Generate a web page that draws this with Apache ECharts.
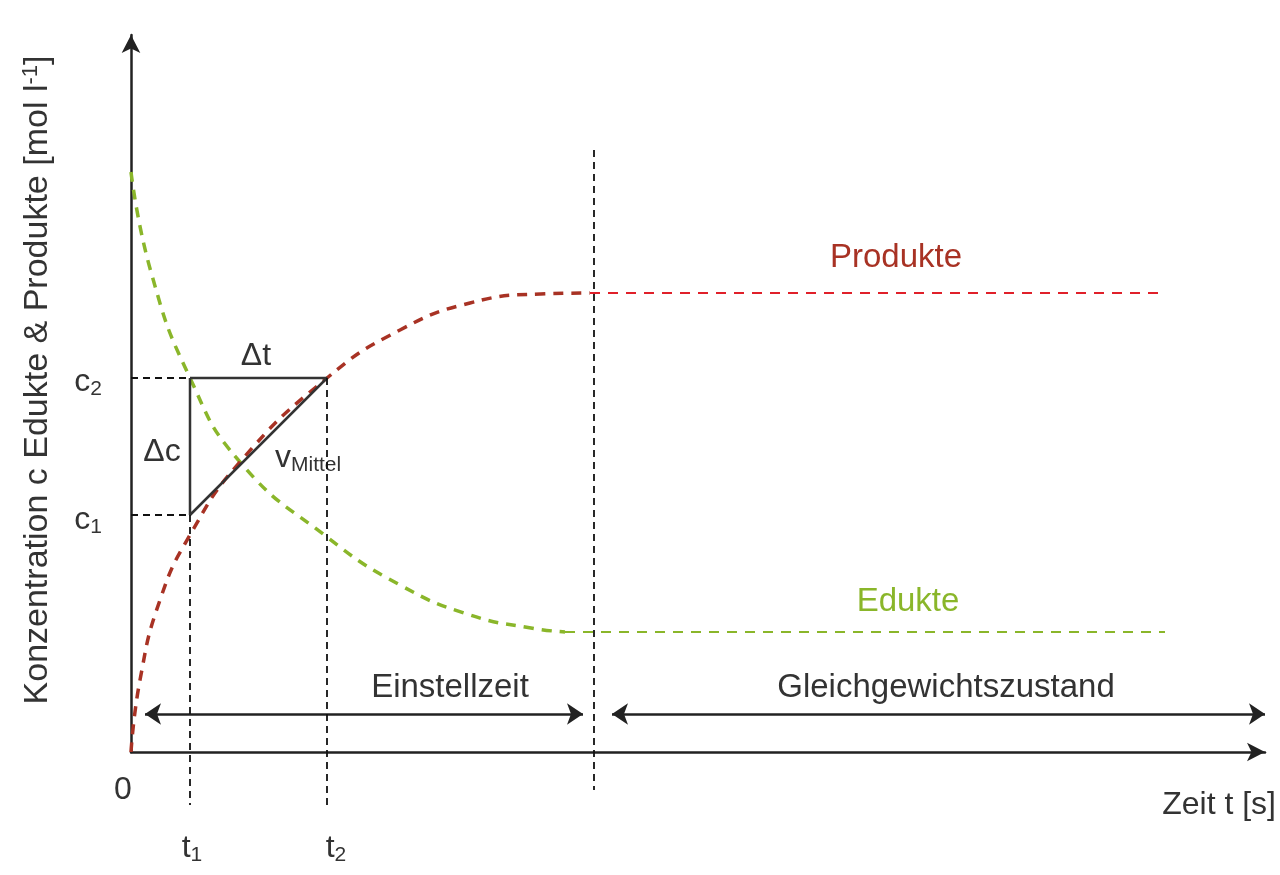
<!DOCTYPE html>
<html><head><meta charset="utf-8">
<script src="https://cdn.jsdelivr.net/npm/echarts@6/dist/echarts.min.js"></script>
<style>html,body{margin:0;background:#fff}#c{width:1280px;height:875px}</style></head>
<body><div id="c"></div>
<script>
// schematic units: time and concentration (arbitrary)
const eduktT = [0, 20, 59, 109, 196, 269, 339, 400, 434];
const eduktC = [580, 480, 374, 290, 215, 167, 137, 124, 120];
const produktT = [0, 9, 29, 59, 109, 196, 269, 339, 409, 459];
const produktC = [0, 72, 152, 217, 290, 374, 422, 449, 458, 459];
const eduktEq = [[434, 120], [1034, 120]];
const produktEq = [[459, 459], [1034, 459]];
const t1 = 59, t2 = 196, c1 = 237, c2 = 374, tEq = 463;

const chart = echarts.init(document.getElementById('c'));
const dark = '#333', F = 'Liberation Sans, Arial, sans-serif';
const ln = (data, color, type, width) => ({type:'line', data, symbol:'none', clip:false, silent:true,
  lineStyle:{color, type, width}, z:3});
const arrowLine = (data) => ({type:'lines', coordinateSystem:'cartesian2d', clip:false, silent:true,
  symbol:['arrow','arrow'], symbolSize:16, lineStyle:{color:'#222', width:2.5, opacity:1},
  data:[{coords:data}]});
const zip = (a,b)=>a.map((v,i)=>[v,b[i]]);
const rich = {sub:{fontSize:21, verticalAlign:'bottom', padding:[15,0,0,0], fontFamily:F, fill:dark}};
const T = (x,y,text,o={}) => ({type:'text', x, y, style:Object.assign({text, font:'32px '+F, fill:dark,
  align:'center', verticalAlign:'middle', rich}, o)});
chart.setOption({
  animation:false,
  grid:{left:131, top:35, width:1134, height:717},
  xAxis:{type:'value', min:0, max:1134, axisLabel:{show:false}, axisTick:{show:false}, splitLine:{show:false},
    axisLine:{lineStyle:{color:'#222', width:2.5}, symbol:['none','arrow'], symbolSize:[14,18]}},
  yAxis:{type:'value', min:0, max:717, axisLabel:{show:false}, axisTick:{show:false}, splitLine:{show:false},
    axisLine:{lineStyle:{color:'#222', width:2.5}, symbol:['none','arrow'], symbolSize:[14,18]}},
  series:[
    {...ln(zip(eduktT,eduktC), '#8ab62a', [10,8], 3.5), smooth:0.5},
    {...ln(zip(produktT,produktC), '#a83224', [10,8], 3.5), smooth:0.5},
    ln(eduktEq, '#8ab62a', [10,8], 2),
    ln(produktEq, '#e0202a', [10,8], 2),
    ln([[t1,c2],[t2,c2],[t1,c1],[t1,c2]], dark, 'solid', 2.5),
    ln([[0,c2],[t1,c2]], '#111', [7,5], 1.8),
    ln([[0,c1],[t1,c1]], '#111', [7,5], 1.8),
    ln([[t1,c1],[t1,-53]], '#111', [7,5], 1.8),
    ln([[t2,c2],[t2,-53]], '#111', [7,5], 1.8),
    ln([[tEq,602],[tEq,-38]], '#111', [7,5], 1.8),
    arrowLine([[14,38],[452,38]]),
    arrowLine([[481,38],[1134,38]])
  ],
  graphic:[
    {type:'text', x:38, y:380, rotation:Math.PI/2, style:{text:'Konzentration c Edukte & Produkte [mol l{sup|-1}]',
      font:'34px '+F, fill:dark, align:'center', verticalAlign:'middle', rich:{sup:{fontSize:22, verticalAlign:'top', padding:[0,0,14,0], fill:dark}}}},
    T(1276,805,'Zeit t [s]',{align:'right'}),
    T(123,790,'0'),
    T(192,848,'t{sub|1}'),
    T(336,848,'t{sub|2}'),
    T(88,382,'c{sub|2}'),
    T(88,520,'c{sub|1}'),
    T(256,356,'Δt'),
    T(162,452,'Δc'),
    T(275,458,'v{sub|Mittel}',{align:'left'}),
    T(896,258,'Produkte',{font:'33px '+F, fill:'#a83224'}),
    T(908,602,'Edukte',{font:'33px '+F, fill:'#8ab62a'}),
    T(450,688,'Einstellzeit',{font:'33px '+F}),
    T(946,688,'Gleichgewichtszustand',{font:'33px '+F})
  ]
});
</script></body></html>
